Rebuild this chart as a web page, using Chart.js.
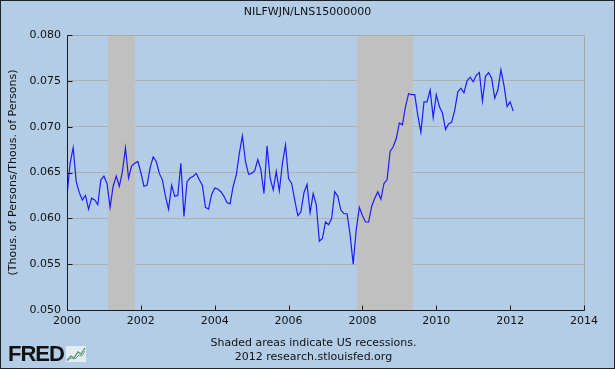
<!DOCTYPE html>
<html>
<head>
<meta charset="utf-8">
<script src="https://cdn.jsdelivr.net/npm/chart.js@4.4.1/dist/chart.umd.min.js"></script>
<style>
  body { margin: 0; background: #b4cde6; }
  #wrap { position: relative; width: 615px; height: 369px; background: #b4cde6; overflow: hidden; }
  #chart { position: absolute; left: 0; top: 0; }
  .txt { position: absolute; left: 0; width: 615px; text-align: center; font: 11px "DejaVu Sans", sans-serif; color: #111; line-height: 14px; }
  #logo { position: absolute; left: 8px; top: 341px; font: bold 22px "Liberation Sans", Arial, sans-serif; letter-spacing: -1px; color: #111; }
  #icon { position: absolute; left: 66px; top: 346px; }
  #frame { position: absolute; left: 0; top: 0; width: 615px; height: 369px; box-sizing: border-box; border: 1px solid #222; pointer-events: none; }
</style>
</head>
<body>
<div id="wrap">
  <canvas id="chart" width="615" height="369"></canvas>
  <div class="txt" style="top:5px">NILFWJN/LNS15000000</div>
  <div class="txt" style="top:336px;left:6px">Shaded areas indicate US recessions.<br>2012 research.stlouisfed.org</div>
  <div id="logo">FRED</div>
  <svg id="icon" width="20" height="16" viewBox="0 0 20 16">
    <rect x="0" y="0" width="20" height="16" fill="#e6edf2"/>
    <polyline points="1,14 5,10 8,12 12,6 15,8 19,2" fill="none" stroke="#5a9a5a" stroke-width="1.3"/>
    <polyline points="1,15 5,12 9,13 13,9 16,10 19,5" fill="none" stroke="#6f8fc0" stroke-width="1"/>
  </svg>
  <div id="frame"></div>
</div>
<script>
// Series: NILFWJN / LNS15000000, monthly from Jan 2000
const startYear = 2000;
const values = [
  0.0625, 0.0660, 0.0677, 0.0640, 0.0628, 0.0620, 0.0625, 0.0610, 0.0622, 0.0620, 0.0615, 0.0642,
  0.0646, 0.0638, 0.0612, 0.0635, 0.0646, 0.0635, 0.0651, 0.0677, 0.0644, 0.0657, 0.0660, 0.0662,
  0.0650, 0.0635, 0.0636, 0.0655, 0.0667, 0.0662, 0.0649, 0.0642, 0.0624, 0.0610, 0.0636, 0.0624,
  0.0625, 0.0660, 0.0602, 0.0640, 0.0644, 0.0646, 0.0649, 0.0642, 0.0636, 0.0612, 0.0610, 0.0626,
  0.0633, 0.0632, 0.0629, 0.0624, 0.0617, 0.0616, 0.0635, 0.0647, 0.0671, 0.0690, 0.0662, 0.0648,
  0.0649, 0.0652, 0.0664, 0.0653, 0.0627, 0.0679, 0.0644, 0.0631, 0.0651, 0.0630, 0.0660, 0.0680,
  0.0643, 0.0638, 0.0620, 0.0603, 0.0607, 0.0628, 0.0637, 0.0606, 0.0627, 0.0615, 0.0575, 0.0578,
  0.0596, 0.0593, 0.0600, 0.0629, 0.0624, 0.0609, 0.0605, 0.0605, 0.0582, 0.0550, 0.0588, 0.0612,
  0.0603, 0.0596, 0.0596, 0.0613, 0.0622, 0.0629, 0.0621, 0.0638, 0.0642, 0.0673, 0.0678, 0.0687,
  0.0704, 0.0702, 0.0722, 0.0736, 0.0735, 0.0735, 0.0712, 0.0694, 0.0727, 0.0727, 0.0740, 0.0710,
  0.0735, 0.0722, 0.0715, 0.0697, 0.0703, 0.0705, 0.0718, 0.0738, 0.0742, 0.0737, 0.0750, 0.0754,
  0.0749, 0.0756, 0.0759, 0.0728, 0.0755, 0.0759, 0.0753, 0.0731, 0.0740, 0.0762, 0.0745, 0.0722,
  0.0727, 0.0717
];

// US recessions (decimal years)
const recessionStart = [2001.12, 2007.84];
const recessionEnd = [2001.83, 2009.37];

// Axis ticks
const xTicks = [2000, 2002, 2004, 2006, 2008, 2010, 2012, 2014];
const yTicks = [0.050, 0.055, 0.060, 0.065, 0.070, 0.075, 0.080];

const points = values.map((v, i) => ({ x: startYear + i / 12, y: v }));
const tickFont = { family: 'DejaVu Sans', size: 11 };

// Recession bands, inward tick marks and the plot frame
const fredFrame = {
  id: 'fredFrame',
  beforeDatasetsDraw(chart) {
    const { ctx, chartArea: a, scales: { x } } = chart;
    ctx.save();
    ctx.fillStyle = '#c0c0c0';
    recessionStart.forEach((s, i) => {
      const x0 = Math.round(x.getPixelForValue(s));
      const x1 = Math.round(x.getPixelForValue(recessionEnd[i]));
      ctx.fillRect(x0, a.top, x1 - x0, a.bottom - a.top);
    });
    ctx.restore();
  },
  afterDraw(chart) {
    const { ctx, chartArea: a, scales: { x, y } } = chart;
    const l = Math.round(a.left) + 0.5, b = Math.round(a.bottom) + 0.5;
    const r = Math.round(a.right) + 0.5, t = Math.round(a.top) + 0.5;
    ctx.save();
    ctx.lineWidth = 1;
    ctx.strokeStyle = '#a8a8a8';
    ctx.beginPath();
    ctx.moveTo(l, t); ctx.lineTo(r, t); ctx.lineTo(r, b);
    ctx.stroke();
    ctx.strokeStyle = '#1a1a1a';
    ctx.beginPath();
    ctx.moveTo(l, t); ctx.lineTo(l, b); ctx.lineTo(r, b);
    yTicks.forEach(v => {
      const py = Math.round(y.getPixelForValue(v)) + 0.5;
      ctx.moveTo(l, py); ctx.lineTo(l + 5, py);
    });
    xTicks.forEach(v => {
      const px = Math.round(x.getPixelForValue(v)) + 0.5;
      ctx.moveTo(px, b); ctx.lineTo(px, b - 5);
    });
    ctx.stroke();
    ctx.restore();
  }
};

new Chart(document.getElementById('chart'), {
  type: 'line',
  data: {
    datasets: [{
      data: points,
      borderColor: '#1c1cff',
      borderWidth: 1.2,
      pointRadius: 0,
      tension: 0,
      fill: false
    }]
  },
  options: {
    responsive: false,
    animation: false,
    layout: { padding: { left: 0, right: 31, top: 35, bottom: 0 } },
    plugins: {
      legend: { display: false },
      tooltip: { enabled: false },
      title: { display: false }
    },
    scales: {
      x: {
        type: 'linear',
        min: 2000,
        max: 2014,
        afterFit(s) { s.height = 59; },
        afterBuildTicks(s) { s.ticks = xTicks.map(v => ({ value: v })); },
        ticks: { color: '#111', font: tickFont, padding: 5, maxRotation: 0, autoSkip: false, callback: v => String(v) },
        grid: { display: false, drawTicks: false },
        border: { display: false }
      },
      y: {
        min: 0.050,
        max: 0.080,
        afterFit(s) { s.width = 67; },
        afterBuildTicks(s) { s.ticks = yTicks.map(v => ({ value: v })); },
        ticks: { color: '#111', font: tickFont, padding: 6, autoSkip: false, callback: v => v.toFixed(3) },
        grid: { color: '#b0b0b0', drawTicks: false },
        border: { display: false },
        title: {
          display: true,
          text: '(Thous. of Persons/Thous. of Persons)',
          color: '#111',
          font: tickFont,
          padding: { top: 7, bottom: 0 }
        }
      }
    }
  },
  plugins: [fredFrame]
});
</script>
</body>
</html>
